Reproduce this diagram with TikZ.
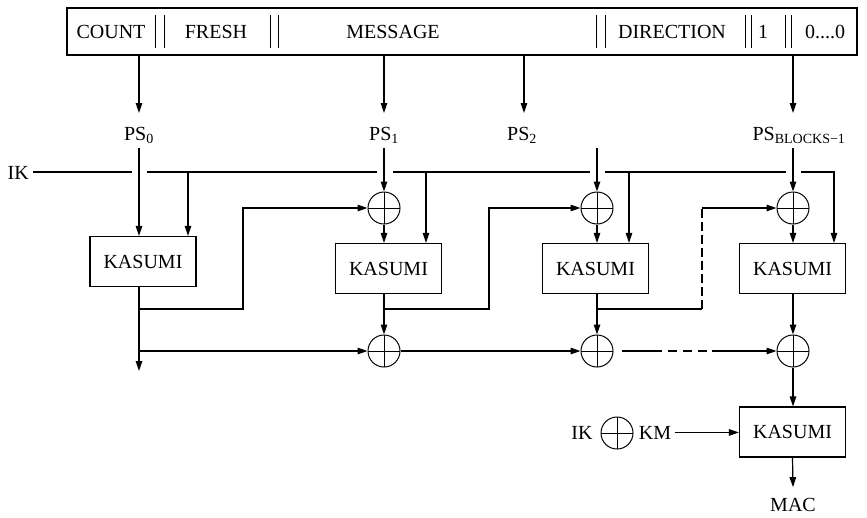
\documentclass[tikz,border=0pt]{standalone}
\usepackage{fontspec}
\setmainfont{Liberation Serif}
\usetikzlibrary{arrows.meta}
\begin{document}
\begin{tikzpicture}[x=1pt,y=-1pt,line width=1.2pt,
  >={Triangle[length=10pt,width=6.5pt]},
  font=\fontsize{20}{24}\selectfont,
  kbox/.style={draw,minimum width=106pt,minimum height=50pt,inner sep=0pt},
  xor/.style={draw,circle,line width=1pt,minimum size=32pt,inner sep=0pt,
    path picture={\draw[line width=1pt] (path picture bounding box.north) -- (path picture bounding box.south)
                        (path picture bounding box.west) -- (path picture bounding box.east);}},
  lbl/.style={inner sep=0pt,anchor=base},
  bar/.style={line width=1pt},
  dsh/.style={dash pattern=on 9pt off 4pt}]
\useasboundingbox (0,0) rectangle (867,517);
% top frame
\node[draw,minimum width=790pt,minimum height=47pt,inner sep=0pt] (frame) at (462,31.5) {};
\node[lbl] (tcount) at (111,38) {COUNT};
\node[lbl] (tfresh) at (216,38) {FRESH};
\node[lbl] (tmsg) at (393,38) {MESSAGE};
\node[lbl] (tdir) at (672,38) {DIRECTION};
\node[lbl] (tone) at (763,38) {1};
\node[lbl] (tzero) at (825,38) {0....0};
\foreach \x in {155.7,164,270,278.3,596.7,605,745,751.7,785,791.7}
  \draw[bar] (\x,15) -- (\x,48);
% columns
\coordinate (c0) at (139,0);
\coordinate (c1) at (384,0);
\coordinate (c2) at (597,0);
\coordinate (cp2) at (524,0);
\coordinate (c3) at (793,0);
% PS labels
\node[lbl] (ps0) at (139,140) {PS\textsubscript{0}};
\node[lbl] (ps1) at (384,140) {PS\textsubscript{1}};
\node[lbl] (ps2) at (522,140) {PS\textsubscript{2}};
\node[lbl,anchor=base west] (psb) at (752,140) {PS\textsubscript{BLOCKS−1}};
\coordinate (t0) at (139,113);
\coordinate (t1) at (384,113);
\coordinate (t2) at (524,113);
\coordinate (t3) at (793,113);
\draw[->] (c0 |- frame.south) -- (t0);
\draw[->] (c1 |- frame.south) -- (t1);
\draw[->] (cp2 |- frame.south) -- (t2);
\draw[->] (c3 |- frame.south) -- (t3);
% KASUMI boxes and XORs
\node[kbox] (k1) at (143,261.5) {KASUMI};
\node[kbox] (k2) at (388.5,268.5) {KASUMI};
\node[kbox] (k3) at (595.5,268.5) {KASUMI};
\node[kbox] (k4) at (792.5,268.5) {KASUMI};
\node[kbox] (k5) at (792.5,432) {KASUMI};
\node[xor] (x1) at (384,208) {};
\node[xor] (x2) at (597,208) {};
\node[xor] (x3) at (793,208) {};
\node[xor] (xa) at (384,351) {};
\node[xor] (xb) at (597,351) {};
\node[xor] (xc) at (793,351) {};
% PS into KASUMI / XOR
\coordinate (s0) at (139,148);
\coordinate (s1) at (384,148);
\coordinate (s2) at (597,148);
\coordinate (s3) at (793,148);
\draw[->] (s0) -- (c0 |- k1.north);
\draw[->] (s1) -- (x1.north);
\draw[->] (s2) -- (x2.north);
\draw[->] (s3) -- (x3.north);
% IK line
\node[lbl,anchor=base west] (ik) at (7,179) {IK};
\coordinate (ik0) at (33,172);
\coordinate (b1) at (188,172);
\coordinate (b2) at (426,172);
\coordinate (b3) at (629,172);
\coordinate (b4) at (834,172);
\draw (ik0) -- (132,172);
\draw (147,172) -- (377,172);
\draw (393,172) -- (590,172);
\draw (605,172) -- (786,172);
\draw[->] (801,172) -- (b4) -- (b4 |- k4.north);
\draw[->] (b1) -- (b1 |- k1.north);
\draw[->] (b2) -- (b2 |- k2.north);
\draw[->] (b3) -- (b3 |- k3.north);
% XOR to KASUMI
\draw[->] (x1.south) -- (c1 |- k2.north);
\draw[->] (x2.south) -- (c2 |- k3.north);
\draw[->] (x3.south) -- (c3 |- k4.north);
% feedback lines
\coordinate (f0) at (139,309);
\coordinate (f1) at (384,309);
\coordinate (f2) at (597,309);
\coordinate (u1) at (243,309);
\coordinate (u2) at (489,309);
\coordinate (u3) at (702,309);
\draw[->] (f0) -- (u1) -- (u1 |- x1.west) -- (x1.west);
\draw[->] (f1) -- (u2) -- (u2 |- x2.west) -- (x2.west);
\draw (f2) -- (u3);
\draw[dsh] (u3) -- (u3 |- x3.west);
\draw[->] (u3 |- x3.west) -- (x3.west);
% KASUMI outputs
\coordinate (out0) at (139,371);
\draw[->] (c0 |- k1.south) -- (out0);
\draw[->] (c1 |- k2.south) -- (xa.north);
\draw[->] (c2 |- k3.south) -- (xb.north);
\draw[->] (c3 |- k4.south) -- (xc.north);
% bottom chain
\coordinate (h0) at (139,351);
\draw[->] (h0) -- (xa.west);
\draw[->] (xa.east) -- (xb.west);
\coordinate (d0) at (622,351);
\coordinate (d1) at (653,351);
\coordinate (d2) at (712,351);
\draw (d0) -- (d1);
\draw[dash pattern=on 9pt off 6pt] (d1) -- (d2);
\draw[->] (d2) -- (xc.west);
\draw[->] (xc.south) -- (xc.south |- k5.north);
% final
\node[lbl] (ik2) at (582,439) {IK};
\node[xor] (xk) at (617,433) {};
\node[lbl] (km) at (655,439) {KM};
\draw[->] ([xshift=3pt]km.east) -- (km.east -| k5.west);
\node[lbl] (mac) at (793,511) {MAC};
\draw[->] (k5.south) -- ([yshift=10pt]mac.north);
\end{tikzpicture}
\end{document}
